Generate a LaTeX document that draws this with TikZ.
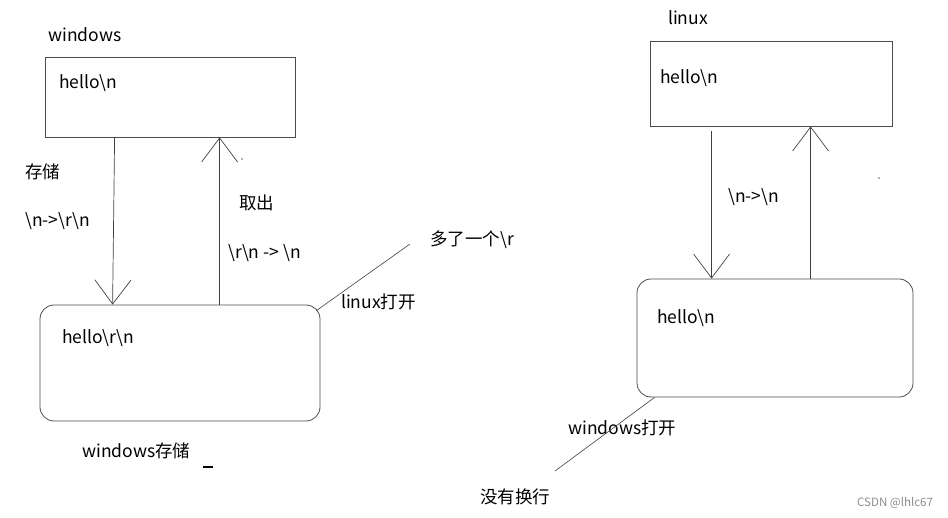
\documentclass[tikz,border=0pt]{standalone}
\usepackage{fontspec}
\setmainfont{Noto Sans CJK SC}
\usetikzlibrary{arrows.meta, positioning, calc}
\newcommand{\bsl}{\textbackslash}

\begin{document}
\begin{tikzpicture}[x=1pt, y=-1pt,
			filebox/.style={draw=black!70, line width=0.8pt, rectangle, inner sep=0pt},
			roundbox/.style={draw=black!70, line width=0.8pt, rectangle, rounded corners=14pt, inner sep=0pt},
			note/.style={anchor=west, inner sep=0pt, font=\fontsize{17.5}{20}\selectfont},
			flow/.style={draw=black!75, line width=0.7pt, -{Straight Barb[length=24pt, width=36pt]}},
			pointer/.style={draw=black!75, line width=0.6pt}
			]
			\useasboundingbox (0,0) rectangle (948,518);
			\node [filebox, minimum width=250pt, minimum height=80pt](winfile) at (170,97) {};
			\node [roundbox, minimum width=280pt, minimum height=116pt](winstore) at (180,363) {};
			\node [filebox, minimum width=242pt, minimum height=85pt](linfile) at (771,83.5) {};
			\node [roundbox, minimum width=276pt, minimum height=118pt](linopen) at (775,338) {};
			
			\node [note](wintitle) at (48,35) {windows};
			\node [note](winhello) at (59,83) {hello\bsl n};
			\node [note](store) at (25,172) {存储};
			\node [note](winconv) at (25,221) {\bsl n->\bsl r\bsl n};
			\node [note](fetch) at (239,203) {取出};
			\node [note](backconv) at (228,253) {\bsl r\bsl n -> \bsl n};
			\node [note](storehello) at (62,338) {hello\bsl r\bsl n};
			\node [note](winstoretext) at (82,451) {windows存储};
			\node [note](extra) at (430,240) {多了一个\bsl r};
			\node [note](linopentext) at (341,302) {linux打开};
			
			\node [note](lintitle) at (668,18) {linux};
			\node [note](linhello) at (660,78) {hello\bsl n};
			\node [note](linconv) at (728,197) {\bsl n->\bsl n};
			\node [note](openhello) at (657,318) {hello\bsl n};
			\node [note](winopentext) at (568,428) {windows打开};
			\node [note](nobreak) at (480,497) {没有换行};
			\node [note, font=\fontsize{11.5}{13}\selectfont, text=black!45](mark) at (857,503) {CSDN @lhlc67};
			
			\coordinate (extraend) at (410,244);
			\coordinate (nobreakend) at (555,471);
			
			\draw[flow] ([xshift=70pt]winfile.south west) -- ([xshift=73pt]winstore.north west);
			\draw[flow] ([xshift=180pt]winstore.north west) -- ([xshift=175pt]winfile.south west);
			\draw[flow, shorten <=5pt] ([xshift=62pt]linfile.south west) -- ([xshift=75pt]linopen.north west);
			\draw[flow] ([xshift=174pt]linopen.north west) -- ([xshift=161pt]linfile.south west);
			\draw[pointer] ([xshift=-4pt, yshift=-6pt]winstore.north east) -- (extraend);
			\draw[pointer] ([xshift=18pt]linopen.south west) -- (nobreakend);
			
			\draw[line width=1.6pt] (203,467) -- (213,467);
			\fill[black!60] (242,159) circle (0.8);
			\fill[black!60] (879,178) circle (0.8);
		\end{tikzpicture}
\end{document}
